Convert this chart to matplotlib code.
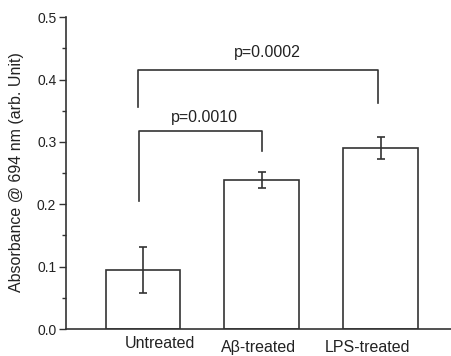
import matplotlib
matplotlib.use("Agg")
import matplotlib.pyplot as plt
from matplotlib.ticker import MultipleLocator, FixedLocator, FormatStrFormatter
import matplotlib.transforms as mtransforms

categories = ["Untreated", "A\u03b2-treated", "LPS-treated"]
values = [0.094, 0.239, 0.290]
errors = [0.037, 0.013, 0.018]
p_labels = ["p=0.0010", "p=0.0002"]

plt.rcParams['font.family'] = ['Liberation Sans', 'DejaVu Sans']
fig = plt.figure(figsize=(4.52, 3.56), dpi=100)
ax = fig.add_axes([0.146, 0.0758, 0.854, 0.876])
col = '#333333'
tcol = '#222222'
x = [1, 2, 3]
ax.bar(x, values, width=0.63, facecolor='white', edgecolor=col, linewidth=1.2,
       yerr=errors, error_kw=dict(ecolor=col, elinewidth=1.2, capsize=3, capthick=1.2))

ax.set_xlim(0.352, 3.60)
ax.set_ylim(0, 0.5)
for s in ['top', 'right']:
    ax.spines[s].set_visible(False)
for s in ['left', 'bottom']:
    ax.spines[s].set_color(col)
    ax.spines[s].set_linewidth(1.2)

ax.yaxis.set_major_locator(MultipleLocator(0.1))
ax.yaxis.set_minor_locator(MultipleLocator(0.05))
ax.tick_params(axis='y', which='major', length=5, width=1, color=col, labelsize=10, labelcolor=tcol, pad=2)
ax.tick_params(axis='y', which='minor', length=3, width=1, color=col)
ax.yaxis.set_major_formatter(FormatStrFormatter('%.1f'))

ax.set_xticks(x)
ax.set_xticklabels(categories)
ax.tick_params(axis='x', which='major', length=0, labelsize=11.5, labelcolor=tcol, pad=5)
ax.xaxis.set_minor_locator(FixedLocator([2]))
ax.tick_params(axis='x', which='minor', length=4, width=1, color=col)
offsets = [17, -3, -13]
vshift = [0, -4, -4]
for lab, dx, dy in zip(ax.get_xticklabels(), offsets, vshift):
    lab.set_transform(lab.get_transform() + mtransforms.ScaledTranslation(dx / 100, dy / 100, fig.dpi_scale_trans))

ax.set_ylabel("Absorbance @ 694 nm (arb. Unit)", fontsize=11.5, color=tcol)
ax.yaxis.set_label_coords(-0.109, 0.503)

# significance brackets
ax.plot([0.966, 0.966, 2.0, 2.0], [0.205, 0.317, 0.317, 0.286], color=col, lw=1.2)
ax.text(1.52, 0.327, p_labels[0], ha='center', va='bottom', fontsize=11.5, color=tcol)
ax.plot([0.955, 0.955, 2.98, 2.98], [0.356, 0.416, 0.416, 0.363], color=col, lw=1.2)
ax.text(2.05, 0.432, p_labels[1], ha='center', va='bottom', fontsize=11.5, color=tcol)

fig.savefig("out.png", dpi=100)
